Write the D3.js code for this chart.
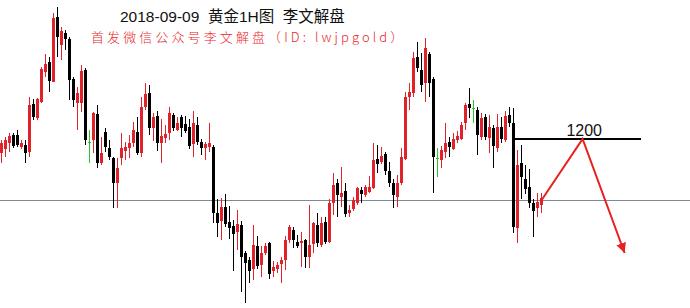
<!DOCTYPE html>
<html>
<head>
<meta charset="utf-8">
<script src="https://cdn.jsdelivr.net/npm/d3@7"></script>
<style>
  body { margin: 0; background: #fff; }
  svg { display: block; }
</style>
</head>
<body>
<div id="chart"></div>
<script>
var svgWidth = 690;
var svgHeight = 308;

// hourly gold candles
var open = [1198.6,1199.0,1199.6,1200.4,1200.4,1199.2,1199.4,1198.7,1203.5,1202.1,
  1203.7,1206.7,1207.7,1205.7,1212.2,1209.4,1210.6,1210.0,1206.0,1203.6,
  1203.6,1206.9,1199.7,1199.9,1202.5,1197.6,1200.7,1199.1,1198.1,1195.6,
  1198.1,1198.8,1199.1,1199.6,1200.7,1198.6,1203.2,1204.6,1201.1,1202.3,
  1199.6,1200.1,1200.6,1202.4,1200.9,1202.2,1201.5,1201.2,1199.5,1201.4,
  1199.7,1199.1,1199.2,1199.2,1192.6,1191.8,1193.2,1191.7,1191.3,1190.7,
  1191.4,1188.6,1187.9,1187.0,1189.3,1187.4,1188.6,1189.6,1186.8,1187.0,
  1187.5,1187.9,1189.9,1190.9,1189.7,1189.6,1189.9,1188.2,1189.5,1191.4,
  1189.4,1191.7,1189.7,1193.6,1195.6,1194.2,1194.8,1192.6,1193.0,1193.6,
  1194.9,1194.4,1194.7,1195.1,1198.0,1197.7,1198.5,1196.8,1195.6,1194.2,
  1195.6,1198.0,1204.2,1204.6,1208.2,1206.9,1205.6,1208.5,1206.0,1198.1,
  1197.9,1198.7,1199.7,1199.0,1199.9,1200.0,1201.6,1203.5,1203.1,1202.9,
  1200.2,1202.2,1200.1,1201.1,1199.1,1201.2,1199.9,1202.4,1201.6,1191.1,
  1197.6,1196.0,1195.2,1193.6,1193.1,1193.4];
var high = [1199.9,1200.2,1200.6,1200.6,1200.9,1199.9,1199.9,1204.2,1204.0,1204.1,
  1207.2,1208.5,1208.2,1212.6,1213.2,1211.2,1210.9,1210.2,1206.2,1205.2,
  1207.4,1207.1,1200.9,1202.7,1203.4,1200.2,1201.1,1199.9,1198.2,1198.1,
  1200.6,1199.7,1200.4,1201.7,1202.2,1204.2,1205.6,1205.4,1202.6,1202.8,
  1202.0,1201.4,1203.2,1202.6,1202.2,1202.4,1202.3,1202.0,1202.8,1202.2,
  1200.0,1199.7,1201.6,1199.4,1194.0,1194.1,1194.5,1193.3,1191.9,1192.9,
  1191.8,1188.8,1188.2,1191.4,1190.3,1189.3,1189.6,1189.7,1187.8,1187.7,
  1188.2,1190.3,1191.4,1191.2,1190.4,1190.7,1190.0,1193.4,1191.7,1192.6,
  1192.2,1192.2,1194.0,1196.6,1196.0,1197.2,1195.6,1193.4,1194.2,1195.2,
  1195.2,1195.4,1196.3,1199.6,1199.4,1199.2,1198.7,1197.7,1196.0,1196.4,
  1199.1,1204.7,1205.6,1208.7,1209.7,1208.6,1210.1,1208.7,1206.2,1199.1,
  1199.3,1201.6,1200.2,1200.6,1200.8,1201.7,1203.6,1205.1,1203.9,1203.2,
  1202.6,1202.5,1202.4,1201.4,1202.5,1202.2,1202.8,1203.2,1203.1,1198.9,
  1199.4,1197.4,1197.0,1194.0,1194.6,1194.6];
var low = [1197.6,1198.2,1198.7,1199.1,1199.2,1199.0,1197.6,1198.2,1201.9,1201.9,
  1203.6,1206.2,1204.7,1205.7,1208.2,1207.9,1208.9,1203.9,1203.2,1200.9,
  1202.7,1199.4,1197.6,1198.6,1197.1,1197.4,1198.7,1197.9,1193.1,1193.1,
  1197.4,1197.9,1198.1,1199.2,1198.4,1198.2,1202.9,1200.4,1199.8,1198.8,
  1197.6,1199.6,1199.9,1200.8,1200.8,1200.2,1200.6,1199.0,1198.2,1199.4,
  1198.4,1197.9,1198.7,1191.6,1190.2,1189.9,1191.2,1190.0,1186.8,1188.9,
  1184.7,1183.6,1185.6,1185.9,1187.0,1186.2,1188.4,1186.0,1186.2,1186.6,
  1185.6,1186.9,1189.6,1189.1,1189.1,1187.2,1187.1,1187.1,1188.6,1189.2,
  1189.2,1189.5,1189.6,1192.4,1192.2,1193.2,1192.2,1192.2,1192.8,1193.4,
  1193.6,1194.2,1194.6,1195.0,1196.6,1197.5,1196.4,1195.2,1193.1,1193.2,
  1195.4,1197.9,1202.9,1204.2,1206.7,1204.7,1203.7,1204.2,1194.6,1196.2,
  1197.1,1198.1,1198.2,1198.9,1199.6,1199.9,1200.9,1202.1,1201.6,1198.4,
  1199.9,1199.9,1198.6,1197.1,1198.7,1199.6,1199.7,1201.2,1190.6,1189.6,
  1194.0,1194.5,1193.1,1190.2,1192.2,1192.6];
var close = [1199.6,1199.9,1200.3,1199.3,1199.4,1199.6,1198.6,1203.4,1202.2,1204.0,
  1207.0,1207.5,1205.8,1212.1,1210.2,1210.8,1210.0,1205.9,1203.9,1204.6,
  1206.8,1199.9,1199.7,1202.6,1197.6,1198.6,1199.2,1198.2,1195.6,1197.1,
  1199.1,1199.2,1199.6,1200.9,1198.6,1203.2,1204.5,1201.1,1202.2,1199.6,
  1200.3,1200.5,1202.6,1201.1,1201.6,1201.1,1200.8,1199.3,1201.6,1199.7,
  1199.1,1199.5,1199.6,1192.6,1191.6,1193.2,1191.5,1191.1,1190.5,1191.5,
  1188.2,1187.6,1186.8,1189.4,1187.3,1188.6,1189.3,1186.5,1187.2,1187.4,
  1187.9,1189.9,1191.2,1189.9,1189.3,1189.8,1188.2,1189.4,1191.6,1189.6,
  1191.6,1189.7,1193.6,1195.4,1194.4,1194.6,1192.5,1192.9,1193.9,1195.1,
  1194.5,1195.2,1195.2,1197.9,1197.5,1198.3,1196.8,1195.6,1194.4,1195.6,
  1198.2,1204.2,1204.7,1208.1,1207.1,1205.4,1209.1,1205.6,1198.2,1198.1,
  1198.9,1199.6,1199.2,1200.0,1200.3,1201.4,1203.4,1203.1,1203.1,1200.4,
  1202.1,1200.2,1201.2,1199.3,1201.2,1200.0,1202.3,1201.6,1191.2,1197.4,
  1196.2,1195.0,1193.6,1192.8,1193.7,1194.1];

// drawn levels and the projected path
var refLevel = 1193.9;
var targetLevel = 1200;
var targetLabel = "1200";
var targetFrom = 128, targetTo = 160;
var pathIdx = [135, 145.4, 155.9];
var pathPrice = [1193.8, 1200.0, 1188.6];

var titleText = "2018-09-09  黄金1H图  李文解盘";
var subText = "首发微信公众号李文解盘（ID: lwjpgold）";

var candles = open.map((o, i) => ({ i: i, o: o, h: high[i], l: low[i], c: close[i] }));

var svg = d3.select("#chart")
  .append("svg")
  .attr("width", svgWidth)
  .attr("height", svgHeight);

svg.append("rect").attr("width", svgWidth).attr("height", svgHeight).attr("fill", "#fff");

var x = d3.scaleLinear().domain([0, 135]).range([1, 541]);
var y = d3.scaleLinear().domain([1183.1, 1213.9]).range([308, 0]);

var cx = i => Math.round(x(i)) + 0.5;
var colour = d => d.c > d.o ? "#e0232a" : (d.c < d.o ? "#000" : "#2bc42b");

// horizontal reference line
svg.append("line")
  .attr("x1", 0).attr("x2", svgWidth)
  .attr("y1", Math.round(y(refLevel)) + 0.5).attr("y2", Math.round(y(refLevel)) + 0.5)
  .attr("stroke", "#7d8b96").attr("stroke-width", 1);

var g = svg.append("g");

// wicks
g.selectAll("line.wick")
  .data(candles)
  .enter()
  .append("line")
  .attr("class", "wick")
  .attr("x1", d => cx(d.i)).attr("x2", d => cx(d.i))
  .attr("y1", d => y(d.h)).attr("y2", d => y(d.l))
  .attr("stroke", colour).attr("stroke-width", 1);

// bodies
g.selectAll("rect.body")
  .data(candles)
  .enter()
  .append("rect")
  .attr("class", "body")
  .attr("x", d => cx(d.i) - 1.5)
  .attr("width", 3)
  .attr("y", d => Math.round(y(Math.max(d.o, d.c))))
  .attr("height", d => Math.max(1, Math.round(Math.abs(y(d.o) - y(d.c)))))
  .attr("fill", colour);

// 1200 level
var ty = Math.round(y(targetLevel));
svg.append("line")
  .attr("x1", x(targetFrom)).attr("x2", x(targetTo))
  .attr("y1", ty).attr("y2", ty)
  .attr("stroke", "#000").attr("stroke-width", 2);

svg.append("text")
  .attr("x", x(145.8)).attr("y", ty - 3)
  .attr("text-anchor", "middle")
  .attr("font-family", "Liberation Sans, Arial, sans-serif")
  .attr("font-size", 16)
  .attr("fill", "#111")
  .text(targetLabel);

// projected path with arrow
svg.append("defs").append("marker")
  .attr("id", "arrow")
  .attr("viewBox", "0 0 10 10")
  .attr("refX", 10).attr("refY", 5)
  .attr("markerWidth", 5).attr("markerHeight", 5)
  .attr("markerUnits", "strokeWidth")
  .attr("orient", "auto")
  .append("path")
  .attr("d", "M0,0L10,5L0,10Z")
  .attr("fill", "#e8201e");

var pts = pathIdx.map((d, k) => [x(d), y(pathPrice[k])]);
svg.append("path")
  .attr("d", d3.line()(pts))
  .attr("fill", "none")
  .attr("stroke", "#e8201e")
  .attr("stroke-width", 2)
  .attr("stroke-linejoin", "miter")
  .attr("marker-end", "url(#arrow)");

// titles
svg.append("text")
  .attr("x", 120).attr("y", 22)
  .attr("font-family", "Liberation Sans, Noto Sans CJK SC, sans-serif")
  .attr("font-size", 15.5)
  .attr("fill", "#111")
  .attr("xml:space", "preserve")
  .style("white-space", "pre")
  .text(titleText);

svg.append("text")
  .attr("x", 91).attr("y", 42)
  .attr("font-family", "Noto Sans CJK SC, sans-serif")
  .attr("font-size", 13)
  .attr("font-weight", 300)
  .attr("letter-spacing", 3.1)
  .attr("fill", "#e8262a")
  .text(subText);
</script>
</body>
</html>
